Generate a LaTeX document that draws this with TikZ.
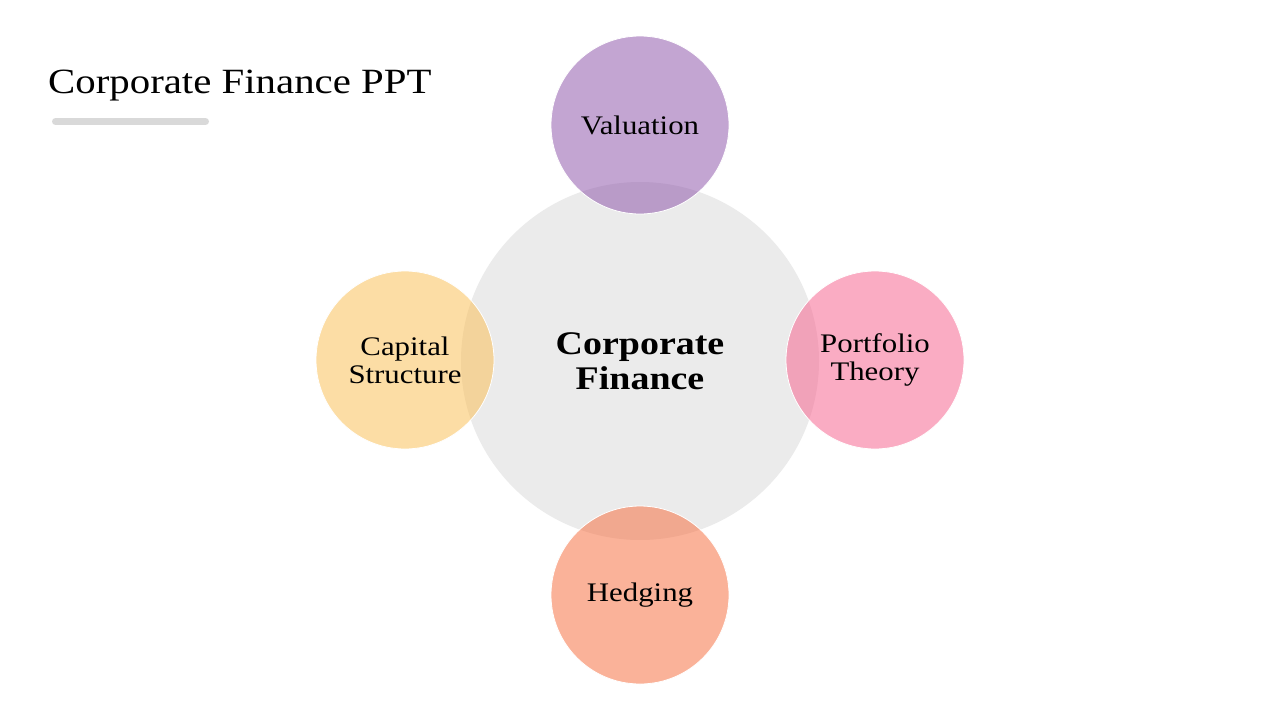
\documentclass[tikz,border=0pt]{standalone}
\usepackage{fontspec}
\setmainfont[FakeStretch=1.15]{Liberation Serif}
\begin{document}
\begin{tikzpicture}[x=1pt,y=-1pt,
  sat/.style={circle,minimum size=178pt,inner sep=0pt,fill opacity=0.5,text opacity=1,draw=white,draw opacity=1,line width=0.8pt,align=center,font=\fontsize{26.8}{28}\selectfont},
  hub/.style={circle,minimum size=358pt,inner sep=0pt,fill=hubgray,align=center,font=\bfseries\fontsize{33}{35}\selectfont}]
\definecolor{hubgray}{HTML}{EBEBEB}
\definecolor{barg}{HTML}{D9D9D9}
\definecolor{cval}{HTML}{894DA7}
\definecolor{ccap}{HTML}{FBBD4D}
\definecolor{cport}{HTML}{F75B89}
\definecolor{chedge}{HTML}{F76735}
\useasboundingbox[fill=white] (0,0) rectangle (1280,720);
\node[anchor=base west,inner sep=0pt,font=\fontsize{35.5}{38}\selectfont] (title) at (48,93) {Corporate Finance PPT};
\draw[barg,line width=7pt,line cap=round] (55.5,121.5) coordinate (b1) -- (205.5,121.5) coordinate (b2);
\node[hub] (hub) at (640,361) {Corporate\\Finance};
\node[sat,fill=cval] (val) at (640,125) {Valuation};
\node[sat,fill=ccap] (cap) at (405,360) {Capital\\Structure};
\node[sat,fill=cport] (port) at (875,360) {Portfolio\\Theory};
\node[sat,fill=chedge] (hedge) at (640,595) {Hedging};
\end{tikzpicture}
\end{document}
